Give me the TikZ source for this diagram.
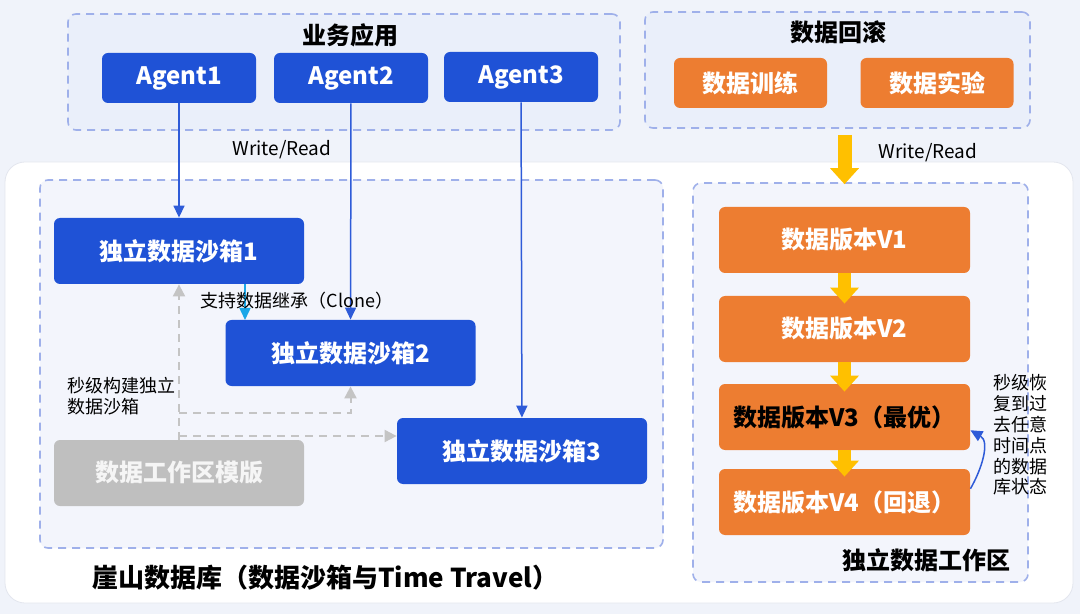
\documentclass[tikz,border=0pt]{standalone}
\usepackage{fontspec}
\setmainfont{Noto Sans CJK SC}
\usetikzlibrary{arrows.meta}
\definecolor{bgcol}{HTML}{F0F3FA}
\definecolor{grpfill}{HTML}{EAEFFA}
\definecolor{grpfilllight}{HTML}{F3F5FC}
\definecolor{dashcol}{HTML}{9FB0EA}
\definecolor{agentblue}{HTML}{1F52D6}
\definecolor{wireblue}{HTML}{2E5BD8}
\definecolor{clonecyan}{HTML}{1AA7E8}
\definecolor{vorange}{HTML}{ED7D31}
\definecolor{vyellow}{HTML}{FFC000}
\definecolor{tplgray}{HTML}{BFBFBF}
\definecolor{tplline}{HTML}{C4C4C4}
\definecolor{panelline}{HTML}{E3E6EE}

\tikzset{
  groupbox/.style={draw=dashcol, dash pattern=on 4pt off 3pt, line width=0.8pt,
    rounded corners=4pt, fill=grpfill, inner sep=0pt},
  bluebox/.style={fill=agentblue, rounded corners=3pt, text=white, inner sep=0pt,
    font=\bfseries\fontsize{12}{14}\selectfont},
  agentbox/.style={bluebox, minimum width=77pt, minimum height=25pt},
  sandbox/.style={bluebox, minimum width=125pt, minimum height=33pt},
  verbox/.style={fill=vorange, rounded corners=3pt, text=white, inner sep=0pt,
    font=\bfseries\fontsize{12}{14}\selectfont, minimum width=125.5pt, minimum height=33pt},
  rollbox/.style={verbox, minimum width=76.5pt, minimum height=25pt},
  tplbox/.style={sandbox, fill=tplgray, text=white!92!gray},
  grouptitle/.style={font=\bfseries\fontsize{12}{14}\selectfont},
  note/.style={font=\fontsize{9}{10.5}\selectfont, align=left, inner sep=0pt},
  wire/.style={draw=wireblue, line width=0.75pt, -{Triangle[length=6pt,width=5.5pt]}},
  clonewire/.style={wire, draw=clonecyan},
  tplwire/.style={draw=tplline, line width=1pt, dash pattern=on 4pt off 3pt,
    -{Triangle[length=6pt,width=6pt]}},
  yarrow/.style={draw=vyellow, line width=7pt, -{Triangle[length=8pt,width=14pt]}}
}

\begin{document}
\begin{tikzpicture}[x=0.5pt,y=0.5pt]
    \useasboundingbox (0,0) rectangle (1080,-614);
    \fill[bgcol] (0,0) rectangle (1080,-614);
    % white panel
    \draw[panelline, fill=white, rounded corners=10pt] (5,-162) rectangle (1073,-603);

    % business apps
    \node[groupbox, minimum width=276pt, minimum height=58pt] (apps) at (344,-72) {};
    \node[grouptitle] (appstitle) at (350,-35) {业务应用};
    \node[agentbox] (agent1) at (179,-78) {Agent1};
    \node[agentbox] (agent2) at (351,-78) {Agent2};
    \node[agentbox] (agent3) at (521,-77) {Agent3};

    % rollback
    \node[groupbox, minimum width=192.5pt, minimum height=58pt] (rollback) at (837.5,-70) {};
    \node[grouptitle] (rolltitle) at (838,-32) {数据回滚};
    \node[rollbox] (train) at (750.5,-83) {数据训练};
    \node[rollbox] (exper) at (937,-83) {数据实验};

    % sandboxes
    \node[groupbox, fill=grpfilllight, minimum width=311.5pt, minimum height=184pt] (sbgroup) at (351.5,-364) {};
    \node[sandbox] (sb1) at (179,-251) {独立数据沙箱1};
    \node[sandbox] (sb2) at (350.5,-353) {独立数据沙箱2};
    \node[sandbox] (sb3) at (522,-451) {独立数据沙箱3};
    \node[tplbox] (tpl) at (179,-473) {数据工作区模版};
    \node[font=\bfseries\fontsize{13}{15}\selectfont, anchor=west] (yashan) at (85,-578) {崖山数据库（数据沙箱与Time Travel）};

    % workspace
    \node[groupbox, fill=grpfilllight, minimum width=167.5pt, minimum height=199.5pt] (ws) at (860.5,-382.5) {};
    \node[verbox] (v1) at (844.5,-240) {数据版本V1};
    \node[verbox] (v2) at (844.5,-329) {数据版本V2};
    \node[verbox, text=black] (v3) at (844.5,-417) {数据版本V3（最优）};
    \node[verbox] (v4) at (844.5,-502) {数据版本V4（回退）};
    \node[grouptitle] (wstitle) at (926,-560) {独立数据工作区};

    % connectors
    \draw[wire] (agent1) -- (sb1);
    \draw[wire] (agent2) -- (sb2);
    \draw[wire] (agent3) -- (sb3);
    \coordinate (clonehit) at (245,-320);
    \draw[clonewire] (sb1.south -| clonehit) -- (clonehit);
    \coordinate (fork2) at (179,-413);
    \coordinate (fork3) at (179,-436);
    \draw[tplwire] (tpl.north) -- (sb1.south);
    \draw[tplwire] (fork2) -| (sb2.south);
    \draw[tplwire] (fork3) -- (fork3 -| sb3.west);
    \draw[yarrow, shorten <=3pt, shorten >=-1pt] (rollback.south -| v1.north) -- (ws.north -| v1.north);
    \draw[yarrow, line width=6.5pt, shorten >=-4pt] (v1) -- (v2);
    \draw[yarrow, line width=6.5pt, shorten >=-4pt] (v2) -- (v3);
    \draw[yarrow, line width=6.5pt, shorten >=-4pt] (v3) -- (v4);
    \draw[wire] (v4.6) to[out=60,in=-30] (v3.-6);

    % labels
    \node[note, font=\fontsize{9.5}{11}\selectfont] (wr1) at (282,-150) {Write/Read};
    \node[note, font=\fontsize{9.5}{11}\selectfont] (wr2) at (928,-153) {Write/Read};
    \node[note] (clonelbl) at (297,-301) {支持数据继承（Clone）};
    \node[note, anchor=west] (buildlbl) at (67,-396) {秒级构建独立\\数据沙箱};
    \node[note, anchor=west, font=\fontsize{9}{10.4}\selectfont] (restorelbl) at (993,-435) {秒级恢\\复到过\\去任意\\时间点\\的数据\\库状态};
\end{tikzpicture}
\end{document}
